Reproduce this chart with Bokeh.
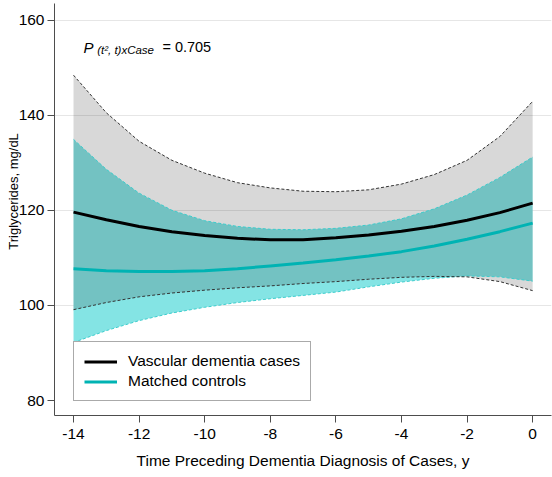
from bokeh.embed import file_html
from bokeh.models import FixedTicker, Label, Legend, LegendItem, Range1d
from bokeh.plotting import figure
from bokeh.resources import INLINE

# Years before diagnosis
years = [-14, -13, -12, -11, -10, -9, -8, -7, -6, -5, -4, -3, -2, -1, 0]

# Vascular dementia cases: fitted mean and 95% band
case_mean = [119.6, 118.0, 116.6, 115.5, 114.7, 114.1, 113.8, 113.8, 114.2, 114.8, 115.6, 116.6, 117.9, 119.5, 121.5]
case_upper = [148.4, 140.5, 134.5, 130.5, 127.8, 125.8, 124.7, 124.0, 123.9, 124.3, 125.5, 127.5, 130.5, 135.5, 142.9]
case_lower = [99.1, 100.6, 101.8, 102.6, 103.2, 103.7, 104.1, 104.6, 105.0, 105.5, 105.9, 106.1, 106.0, 105.0, 103.1]

# Matched controls: fitted mean and 95% band
ctrl_mean = [107.7, 107.3, 107.1, 107.1, 107.3, 107.7, 108.3, 108.9, 109.6, 110.4, 111.3, 112.5, 113.9, 115.5, 117.3]
ctrl_upper = [134.9, 128.6, 123.6, 120.0, 117.8, 116.6, 116.0, 115.9, 116.2, 116.9, 118.2, 120.3, 123.2, 126.9, 131.2]
ctrl_lower = [92.2, 94.7, 96.8, 98.4, 99.6, 100.6, 101.4, 102.1, 102.8, 103.9, 104.9, 105.7, 106.2, 106.0, 105.1]

x_ticks = [-14, -12, -10, -8, -6, -4, -2, 0]
y_ticks = [80, 100, 120, 140, 160]
grid_ticks = [100, 120, 140, 160]

FONT = "Liberation Sans"
AXIS_COLOR = "#4d4d4d"

p = figure(
    width=552,
    height=477,
    output_backend="svg",
    toolbar_location=None,
    x_range=Range1d(-14.58, 0.575),
    y_range=Range1d(76.85, 163.47),
    min_border_left=54,
    min_border_right=1,
    min_border_top=3,
    min_border_bottom=62,
)
p.outline_line_color = None
p.background_fill_color = "white"
p.border_fill_color = "white"

# Confidence bands: controls (cyan) underneath, cases (translucent grey) on top
p.varea(x=years, y1=ctrl_lower, y2=ctrl_upper, fill_color="#84e4e4", fill_alpha=1.0)
p.varea(x=years, y1=case_lower, y2=case_upper, fill_color="#262626", fill_alpha=0.18)

# Band edges
for edge in (ctrl_upper, ctrl_lower):
    p.line(years, edge, line_color="#3ccccc", line_width=1, line_dash="3 2")
for edge in (case_upper, case_lower):
    p.line(years, edge, line_color="#333333", line_width=1, line_dash="3 2")

# Fitted means
case_line = p.line(years, case_mean, line_color="black", line_width=3)
ctrl_line = p.line(years, ctrl_mean, line_color="#00b3b3", line_width=3)

# Axes
p.xaxis.ticker = FixedTicker(ticks=x_ticks)
p.yaxis.ticker = FixedTicker(ticks=y_ticks)
p.xaxis.major_label_overrides = {t: str(t) for t in x_ticks}
p.yaxis.major_label_overrides = {t: str(t) for t in y_ticks}
for ax in (p.xaxis[0], p.yaxis[0]):
    ax.axis_line_color = AXIS_COLOR
    ax.major_tick_line_color = AXIS_COLOR
    ax.major_tick_out = 7
    ax.major_tick_in = 0
    ax.minor_tick_line_color = None
    ax.major_label_text_font = FONT
    ax.major_label_text_font_size = "15.5px"
    ax.major_label_text_color = "black"
    ax.axis_label_text_font = FONT
    ax.axis_label_text_font_style = "normal"
    ax.axis_label_text_color = "black"
p.xaxis.major_label_standoff = 6
p.yaxis.major_label_standoff = 3
p.xaxis.axis_label = "Time Preceding Dementia Diagnosis of Cases, y"
p.xaxis.axis_label_text_font_size = "15.5px"
p.xaxis.axis_label_standoff = 10
# leading no-break spaces lift the title slightly above the frame centre
p.yaxis.axis_label = "\u00a0" * 10 + "Triglycerides, mg/dL"
p.yaxis.axis_label_text_font_size = "13px"
p.yaxis.axis_label_standoff = -5

p.xgrid.grid_line_color = None
p.ygrid.ticker = FixedTicker(ticks=grid_ticks)
p.ygrid.grid_line_color = "#e6e6e6"
p.ygrid.grid_line_width = 1

# Interaction p-value
p.add_layout(Label(
    x=-13.695, y=154.3, text="P", text_font=FONT, text_font_size="15px",
    text_font_style="italic", text_baseline="alphabetic", text_color="black",
))
p.add_layout(Label(
    x=-13.28, y=153.6, text="(t\u00b2, t)xCase", text_font=FONT, text_font_size="11.5px",
    text_font_style="italic", text_baseline="alphabetic", text_color="black",
))
p.add_layout(Label(
    x=-11.29, y=154.3, text="= 0.705", text_font=FONT, text_font_size="14.5px",
    text_baseline="alphabetic", text_color="black",
))

legend = Legend(
    items=[
        LegendItem(label="Vascular dementia cases", renderers=[case_line]),
        LegendItem(label="Matched controls", renderers=[ctrl_line]),
    ],
    location=(19, 14),
    label_text_font=FONT,
    label_text_font_size="15.5px",
    label_text_color="black",
    glyph_width=33,
    glyph_height=17,
    label_height=17,
    label_standoff=11,
    padding=10,
    spacing=2,
    margin=0,
    border_line_color="#555555",
    border_line_width=1,
    background_fill_color="white",
    background_fill_alpha=1.0,
)
p.add_layout(legend)

open("out.html", "w").write(file_html(p, INLINE))
